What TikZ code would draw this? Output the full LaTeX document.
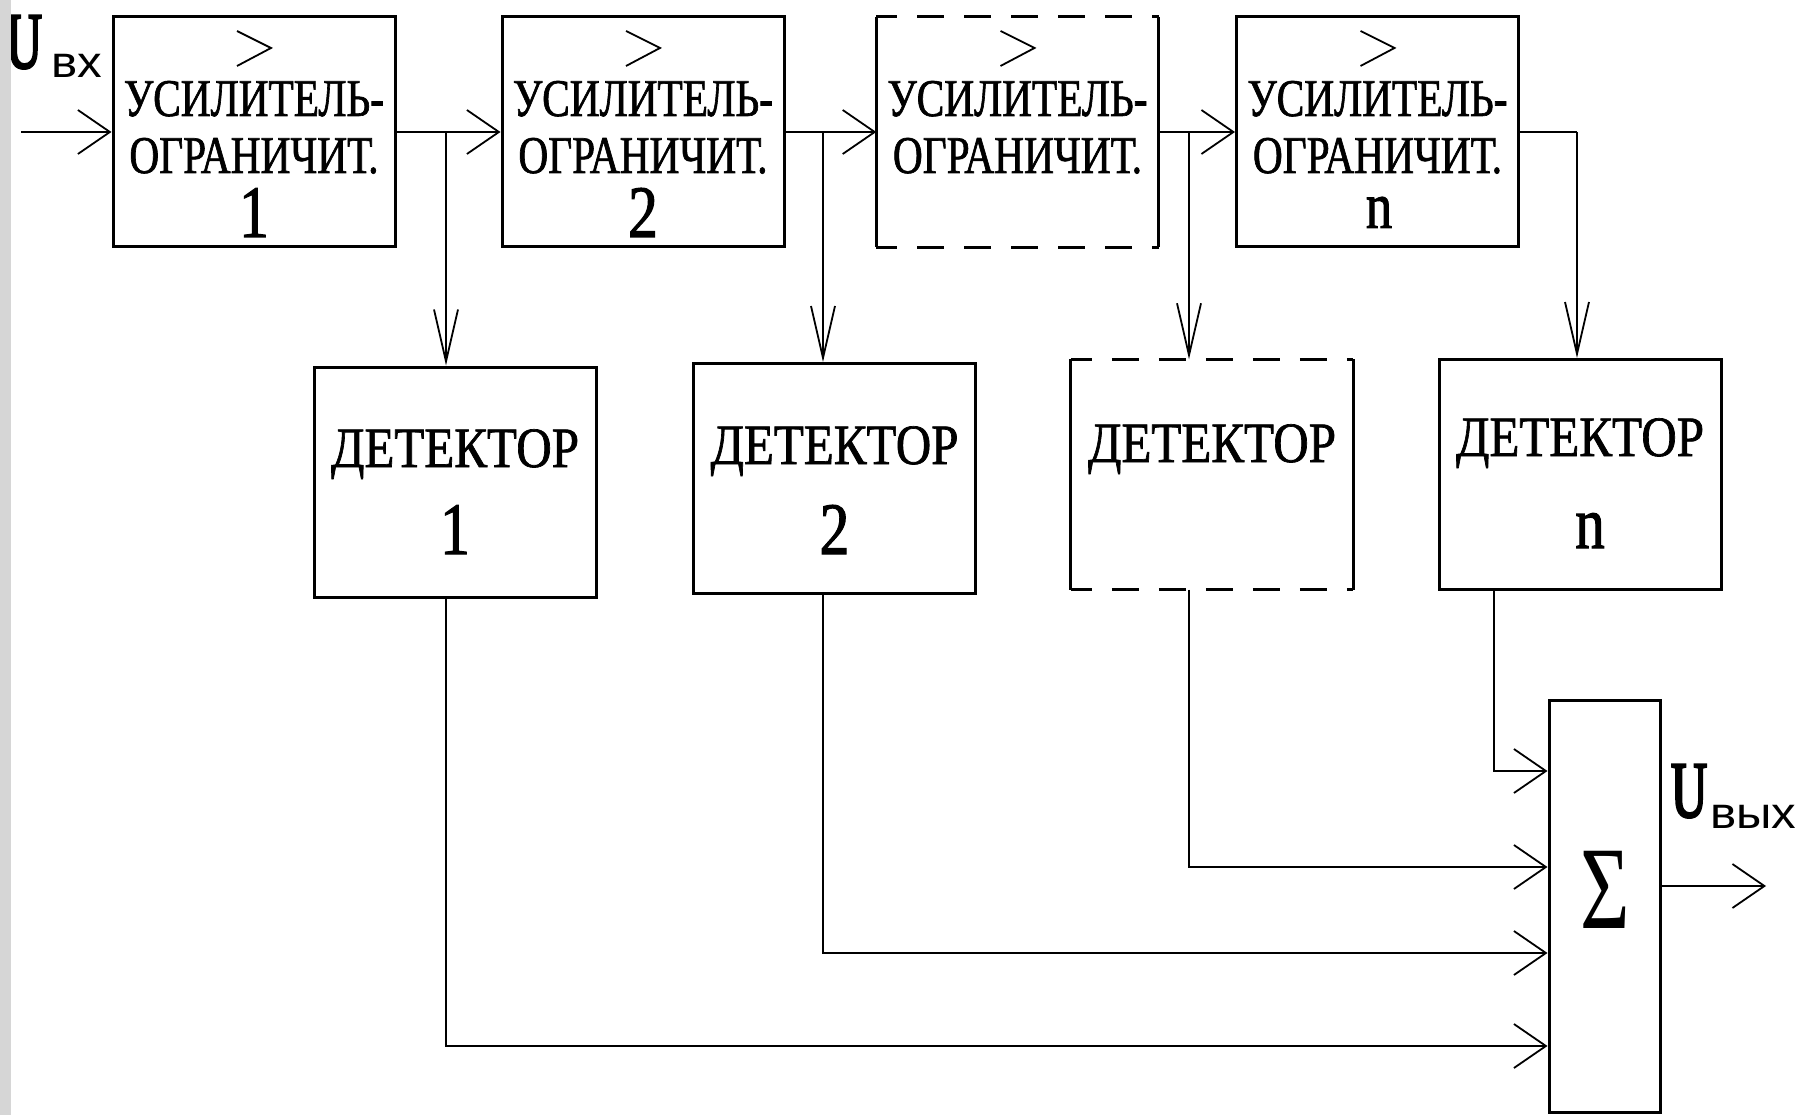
\documentclass[tikz,border=0pt]{standalone}
\usepackage{fontspec}
\setmainfont{Liberation Serif}
\newfontfamily\boxfont[FakeStretch=0.78,FakeBold=1.2]{Liberation Serif}
\newfontfamily\detfont[FakeStretch=0.86,FakeBold=1.2]{Liberation Serif}
\newfontfamily\numfont[FakeStretch=0.8,FakeBold=1.5]{Liberation Serif}
\newfontfamily\sigfont[FakeStretch=0.72]{Liberation Serif}
\newfontfamily\ufont[FakeStretch=0.62,FakeBold=3]{Liberation Serif}
\newfontfamily\subfont[FakeStretch=1.12]{Liberation Sans}
\usetikzlibrary{arrows.meta}
\definecolor{stripgray}{RGB}{214,214,214}
\begin{document}
\begin{tikzpicture}[x=1pt,y=-1pt,
  blk/.style={draw, line width=3pt, minimum width=282pt, minimum height=230pt, inner sep=0pt},
  dblk/.style={minimum width=282pt, minimum height=230pt, inner sep=0pt},
  dside/.style={line width=3pt},
  dedge/.style={line width=3pt, dash pattern=on 27pt off 20pt, dash phase=6pt},
  wire/.style={line width=2.5pt},
  arrh/.style={wire, -{Straight Barb[length=32pt,width=44pt,line width=1.8pt]}},
  arrv/.style={wire, -{Straight Barb[length=52pt,width=24pt,line width=1.8pt]}},
  chev/.style={line width=1.8pt},
  lbl/.style={inner sep=0pt, anchor=base},
  utxt/.style={lbl, font=\boxfont\fontsize{53}{53}\selectfont},
  dtxt/.style={lbl, font=\detfont\fontsize{57}{57}\selectfont},
  ntxt/.style={lbl, font=\numfont\fontsize{74}{74}\selectfont},
]
\useasboundingbox (0,0) rectangle (1810,1115);
\fill[white] (0,0) rectangle (1810,1115);

% amplifier-limiter blocks
\node[blk]  (b1) at (254,132) {};
\node[blk]  (b2) at (643,132) {};
\node[dblk] (b3) at (1017.5,132) {};
\node[blk]  (b4) at (1377.5,132) {};

% detector blocks
\node[blk]  (d1) at (455,482) {};
\node[blk]  (d2) at (834.5,478.5) {};
\node[dblk] (d3) at (1212,474.5) {};
\node[blk]  (d4) at (1580,474.5) {};

% dashed outlines (solid sides, dashed top and bottom)
\foreach \b in {b3,d3}{
  \draw[dside] (\b.north west) -- (\b.south west);
  \draw[dside] (\b.north east) -- (\b.south east);
  \draw[dedge] (\b.north west) -- (\b.north east);
  \draw[dedge] (\b.south west) -- (\b.south east);
}

% summator
\node[draw, line width=3pt, minimum width=111pt, minimum height=412pt, inner sep=0pt] (s) at (1604.5,906) {};
\node[lbl, font=\sigfont\fontsize{118}{118}\selectfont] (sig) at (1605,928) {Σ};

% texts in amplifier blocks
\foreach \n/\x in {1/254, 2/643, 3/1017.5, 4/1377.5}{
  \node[utxt] (ta\n) at (\x,116) {УСИЛИТЕЛЬ-};
  \node[utxt] (tb\n) at (\x,173) {ОГРАНИЧИТ.};
  \draw[chev] (\x-17,31) -- (\x+17,48) -- (\x-17,66);
}
\node[ntxt] (tn1) at (254,237) {1};
\node[ntxt] (tn2) at (643,237) {2};
\node[ntxt, font=\numfont\fontsize{66}{66}\selectfont] (tn4) at (1379,228) {n};

% texts in detector blocks
\node[dtxt] (td1) at (455,467) {ДЕТЕКТОР};
\node[ntxt] (dn1) at (455,554) {1};
\node[dtxt] (td2) at (834.5,464) {ДЕТЕКТОР};
\node[ntxt] (dn2) at (834.5,554) {2};
\node[dtxt] (td3) at (1212,462) {ДЕТЕКТОР};
\node[dtxt] (td4) at (1580,456) {ДЕТЕКТОР};
\node[ntxt] (dn4) at (1590,548) {n};

% input / output labels
\node[lbl, anchor=base east, font=\ufont\fontsize{80}{80}\selectfont] (uin) at (42,68) {U};
\node[lbl, anchor=base west, font=\subfont\fontsize{44}{44}\selectfont] (uinsub) at (51,78) {вх};
\node[lbl, anchor=base west, font=\ufont\fontsize{80}{80}\selectfont] (uout) at (1671,817) {U};
\node[lbl, anchor=base west, font=\subfont\fontsize{44}{44}\selectfont] (uoutsub) at (1710,828) {вых};

% junction coordinates
\coordinate (in) at (21,132);
\coordinate (j1) at (446,132);
\coordinate (j2) at (823,132);
\coordinate (j3) at (1189,132);
\coordinate (j4) at (1577,132);
\coordinate (y1) at (0,1046);
\coordinate (y2) at (0,953);
\coordinate (y3) at (0,867);
\coordinate (y4) at (0,771);
\coordinate (yo) at (0,886);
\coordinate (out) at (1766,886);
\coordinate (x1) at (446,0);
\coordinate (x2) at (823,0);
\coordinate (x3) at (1189,0);
\coordinate (x4) at (1494,0);

% chain
\draw[arrh] (in) -- (b1.west);
\draw[arrh] (b1.east) -- (b2.west);
\draw[arrh] (b2.east) -- (b3.west);
\draw[arrh] (b3.east) -- (b4.west);
\draw[wire] (b4.east) -- (j4);

% branches to detectors
\draw[arrv] (j1) -- (j1 |- d1.north);
\draw[arrv] (j2) -- (j2 |- d2.north);
\draw[arrv] (j3) -- (j3 |- d3.north);
\draw[arrv] (j4) -- (j4 |- d4.north);

% detectors to summator
\draw[arrh] (x1 |- d1.south) -- (x1 |- y1) -- (s.west |- y1);
\draw[arrh] (x2 |- d2.south) -- (x2 |- y2) -- (s.west |- y2);
\draw[arrh] (x3 |- d3.south) -- (x3 |- y3) -- (s.west |- y3);
\draw[arrh] (x4 |- d4.south) -- (x4 |- y4) -- (s.west |- y4);

% output
\draw[arrh] (s.east |- yo) -- (out);

% left grey strip
\fill[stripgray] (0,0) rectangle (11,1115);
\end{tikzpicture}
\end{document}
